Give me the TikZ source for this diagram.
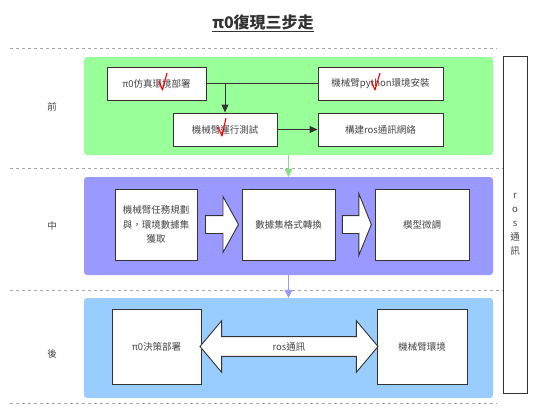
\documentclass[tikz,border=0pt]{standalone}
\usepackage{fontspec}
\setmainfont{Noto Sans CJK TC}
\usetikzlibrary{arrows.meta,shapes.arrows,calc}
\definecolor{txtgray}{HTML}{444444}
\definecolor{linegray}{HTML}{333333}
\definecolor{greenbg}{HTML}{99FF99}
\definecolor{purplebg}{HTML}{9999FF}
\definecolor{bluebg}{HTML}{99CCFF}
\begin{document}
\begin{tikzpicture}[x=1pt,y=-1pt,
  font=\fontsize{9.5}{12}\selectfont, text=txtgray,
  panel/.style={rounded corners=3pt, inner sep=0pt, minimum width=409pt},
  stepbox/.style={draw=linegray, line width=1pt, fill=white, align=center, inner sep=2pt},
  link/.style={draw=linegray, line width=1pt},
  bigarrow/.style={draw=linegray, line width=0.9pt, fill=white, inner xsep=0pt}]
\useasboundingbox (0,0) rectangle (549,415);
% title
\node[font=\fontsize{16}{18}\selectfont\bfseries, text=linegray] (title) at (263,23) {\underline{π0復現三步走}};
% stage separators
\draw[gray!70, dashed, line width=0.6pt] (10,48) -- (497,48);
\draw[gray!70, dashed, line width=0.6pt] (10,168) -- (503,168);
\draw[gray!70, dashed, line width=0.6pt] (10,290) -- (503,290);
\draw[gray!70, dashed, line width=0.6pt] (10,403) -- (497,403);
% stage labels
\node (pre) at (52,107) {前};
\node (mid) at (52,226) {中};
\node (post) at (52,354) {後};
% panels
\node[panel, fill=greenbg, minimum height=98pt] (p1) at (288.5,106) {};
\node[panel, fill=purplebg, minimum height=98pt] (p2) at (288.5,226) {};
\node[panel, fill=bluebg, minimum height=100pt] (p3) at (288.5,348) {};
\draw[-{Triangle[length=8pt,width=8pt]}, greenbg!80!black!60!greenbg, line width=1pt] (p1) -- (p2);
\draw[-{Triangle[length=8pt,width=8pt]}, purplebg, line width=1pt] (p2) -- (p3);
% first stage
\node[stepbox, minimum width=99pt, minimum height=33pt] (a) at (156.5,83.5) {π0仿真環境部署};
\node[stepbox, minimum width=125pt, minimum height=33pt] (b) at (380.5,83.5) {機械臂python環境安裝};
\node[stepbox, minimum width=104pt, minimum height=33pt] (c) at (225,129.5) {機械臂運行測試};
\node[stepbox, minimum width=125pt, minimum height=33pt] (d) at (380.5,129.5) {構建ros通訊網絡};
\draw[link] (a) -- (b);
\draw[link, -{Triangle[length=8pt,width=7pt]}] (a.east -| c.north) -- (c.north);
\draw[link, -{Triangle[length=8pt,width=7pt]}] (c) -- (d);
% check marks
\draw[red, line width=1.1pt, line join=round] (159,81) -- (162.5,90) -- (167,73);
\draw[red, line width=1.1pt, line join=round] (371.5,81) -- (375,90) -- (380,73);
\draw[red, line width=1.1pt, line join=round] (218,127) -- (222,136) -- (226,118);
% second stage
\node[stepbox, minimum width=82pt, minimum height=71pt, font=\fontsize{9.5}{14.5}\selectfont] (e) at (156,224.5) {機械臂任務規劃\\與，環境數據集\\獲取};
\node[stepbox, minimum width=93pt, minimum height=71pt] (f) at (288.5,224.5) {數據集格式轉換};
\node[stepbox, minimum width=94pt, minimum height=71pt] (g) at (422,224.5) {模型微調};
\node[bigarrow, single arrow, inner ysep=8.5pt, minimum height=33pt,
  single arrow head extend=19pt, single arrow tip angle=122] (ef) at ($(e.east)!0.5!(f.west)$) {};
\node[bigarrow, single arrow, inner ysep=8.5pt, minimum height=29pt,
  single arrow head extend=22pt, single arrow tip angle=136] (fg) at ($(f.east)!0.5!(g.west)$) {};
% third stage
\node[stepbox, minimum width=89pt, minimum height=75pt] (h) at (156.5,346.5) {π0決策部署};
\node[stepbox, minimum width=90pt, minimum height=75pt] (i) at (422,346.5) {機械臂環境};
\node[bigarrow, double arrow, inner ysep=5pt, minimum height=178pt,
  double arrow head extend=16pt, double arrow tip angle=100] (hi) at ($(h.east)!0.5!(i.west)$) {ros通訊};
% ros bar
\node[stepbox, minimum width=24pt, minimum height=337pt, inner sep=0pt,
  font=\fontsize{9.5}{14}\selectfont] (ros) at (515,224.5) {r\\o\\s\\通\\訊};
\end{tikzpicture}
\end{document}
